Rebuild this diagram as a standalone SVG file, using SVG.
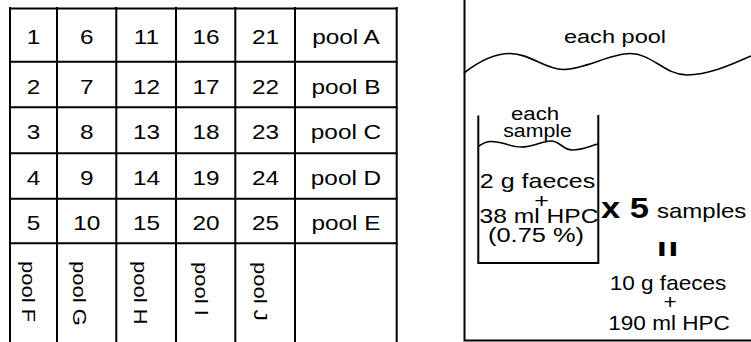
<svg xmlns="http://www.w3.org/2000/svg" width="751" height="342" viewBox="0 0 751 342">
<style>
.ln{stroke:#000;stroke-width:2;fill:none}
.wv{stroke:#000;stroke-width:1.6;fill:none}
text{font-family:"Liberation Sans",Arial,sans-serif;fill:#000}
.c{font-size:21px;text-anchor:middle}
.v{font-size:19px}
.s{font-size:19px;text-anchor:middle}
.b{font-size:20.5px;text-anchor:middle}
.r{font-size:20.5px;text-anchor:middle}
.bold{font-weight:bold}
</style>
<rect width="751" height="342" fill="#fff"/>
<g id="grid">
<path class="ln" d="M9,8.5H397.5M9,61.7H397.5M9,107.3H397.5M9,153.3H397.5M9,198.7H397.5M9,243.3H397.5"/>
<path class="ln" d="M10,7V342M57,7V342M116.3,7V342M176,7V342M235.3,7V342M295,7V342M396.7,7V342"/>
</g>
<g id="cells">
<text class="c" transform="translate(33.5,44.3) scale(1.16,1)">1</text>
<text class="c" transform="translate(86.7,44.3) scale(1.16,1)">6</text>
<text class="c" transform="translate(146.5,44.3) scale(1.16,1)">11</text>
<text class="c" transform="translate(206,44.3) scale(1.16,1)">16</text>
<text class="c" transform="translate(265.5,44.3) scale(1.16,1)">21</text>
<text class="c" transform="translate(346,44.3) scale(1.16,1)">pool A</text>
<text class="c" transform="translate(33.5,94.3) scale(1.16,1)">2</text>
<text class="c" transform="translate(86.7,94.3) scale(1.16,1)">7</text>
<text class="c" transform="translate(146.5,94.3) scale(1.16,1)">12</text>
<text class="c" transform="translate(206,94.3) scale(1.16,1)">17</text>
<text class="c" transform="translate(265.5,94.3) scale(1.16,1)">22</text>
<text class="c" transform="translate(346,94.3) scale(1.16,1)">pool B</text>
<text class="c" transform="translate(33.5,139.3) scale(1.16,1)">3</text>
<text class="c" transform="translate(86.7,139.3) scale(1.16,1)">8</text>
<text class="c" transform="translate(146.5,139.3) scale(1.16,1)">13</text>
<text class="c" transform="translate(206,139.3) scale(1.16,1)">18</text>
<text class="c" transform="translate(265.5,139.3) scale(1.16,1)">23</text>
<text class="c" transform="translate(346,139.3) scale(1.16,1)">pool C</text>
<text class="c" transform="translate(33.5,185) scale(1.16,1)">4</text>
<text class="c" transform="translate(86.7,185) scale(1.16,1)">9</text>
<text class="c" transform="translate(146.5,185) scale(1.16,1)">14</text>
<text class="c" transform="translate(206,185) scale(1.16,1)">19</text>
<text class="c" transform="translate(265.5,185) scale(1.16,1)">24</text>
<text class="c" transform="translate(346,185) scale(1.16,1)">pool D</text>
<text class="c" transform="translate(33.5,230) scale(1.16,1)">5</text>
<text class="c" transform="translate(86.7,230) scale(1.16,1)">10</text>
<text class="c" transform="translate(146.5,230) scale(1.16,1)">15</text>
<text class="c" transform="translate(206,230) scale(1.16,1)">20</text>
<text class="c" transform="translate(265.5,230) scale(1.16,1)">25</text>
<text class="c" transform="translate(346,230) scale(1.16,1)">pool E</text>
<text class="v" transform="translate(21.5,261) rotate(90) scale(1.16,1)">pool F</text>
<text class="v" transform="translate(72.5,261) rotate(90) scale(1.16,1)">pool G</text>
<text class="v" transform="translate(134,261) rotate(90) scale(1.16,1)">pool H</text>
<text class="v" transform="translate(195,262) rotate(90) scale(1.16,1)">pool I</text>
<text class="v" transform="translate(254,262) rotate(90) scale(1.16,1)">pool J</text>
</g>
<g id="pool">
<path class="ln" d="M464.5,0V340.5H751"/>
<path class="wv" d="M464,73 C478,62 493,53.5 510,53.5 C530,53.5 545,69.5 563,69.5 C585,69.5 610,53.5 630,53.5 C652,53.5 665,75 687,75 C710,75 735,63 751,56"/>
<text class="s" transform="translate(615,42.7) scale(1.24,1)">each pool</text>
</g>
<g id="sample">
<path class="ln" d="M478.3,115.5V263H598.3V115"/>
<path class="wv" d="M478,146.5 C483,143 487,141.5 491,141.5 C503,141.5 510,147 521,147 C533,147 542,141 551,141 C560,141 563,150 572,150 C582,150 590,146 598,144"/>
<text class="s" transform="translate(535,120) scale(1.17,1)">each</text>
<text class="s" transform="translate(537.5,136.7) scale(1.12,1)">sample</text>
<text class="b" transform="translate(537.5,188) scale(1.22,1)">2 g faeces</text>
<text class="b" transform="translate(541.5,207.5) scale(1.22,1)">+</text>
<text class="b" transform="translate(539,223.3) scale(1.2,1)">38 ml HPC</text>
<text class="b" transform="translate(536,242) scale(1.24,1)">(0.75 %)</text>
</g>
<g id="total">
<text class="bold" font-size="30" transform="translate(601,218.3) scale(1.15,1)">x 5</text>
<text font-size="20" transform="translate(657,218.3) scale(1.2,1)">samples</text>
<text class="bold" font-size="20" letter-spacing="1" transform="translate(657,255.5) scale(1.75,1)">II</text>
<text class="r" transform="translate(668,290) scale(1.1,1)">10 g faeces</text>
<text class="r" transform="translate(670,309) scale(1.1,1)">+</text>
<text class="r" transform="translate(669,330) scale(1.1,1)">190 ml HPC</text>
</g>
</svg>
